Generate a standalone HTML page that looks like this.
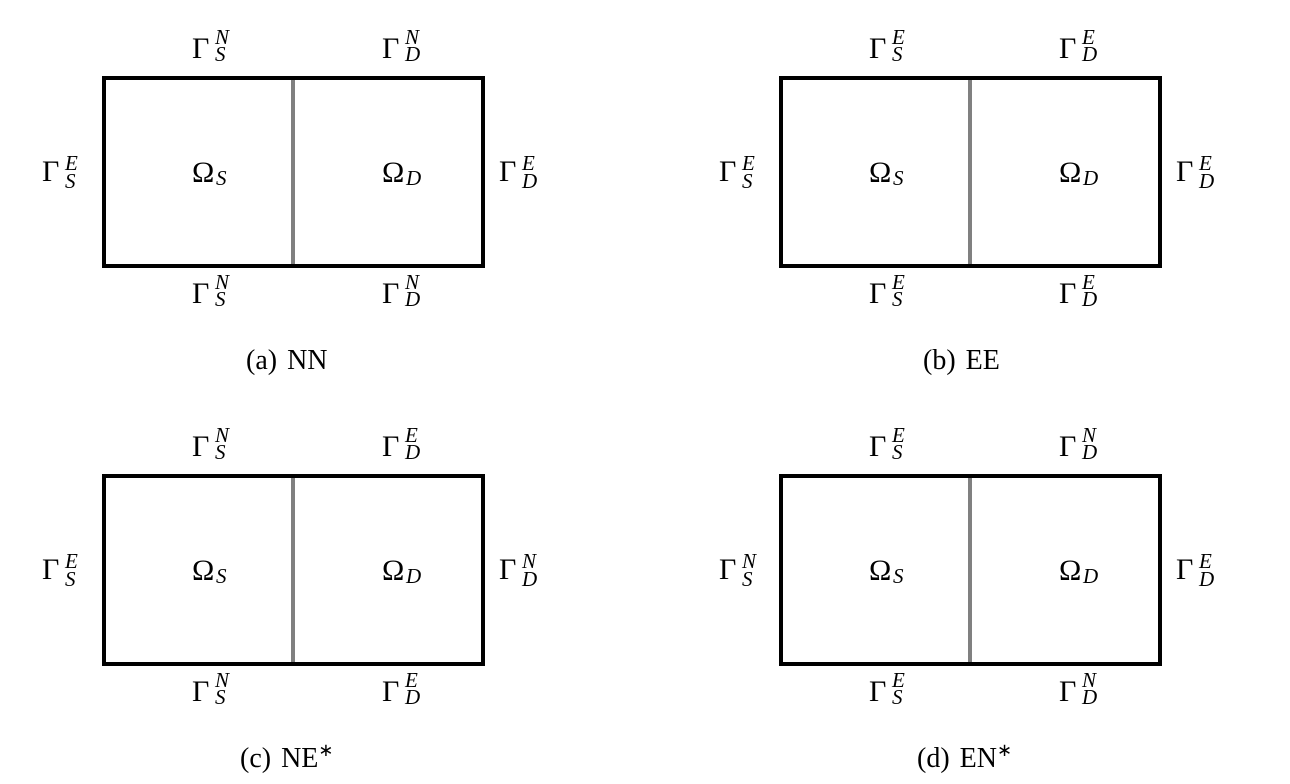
<!DOCTYPE html>
<html><head><meta charset="utf-8"><style>
html,body{margin:0;padding:0;background:#fff;width:1290px;height:784px;overflow:hidden}
svg text{font-family:"Liberation Serif",serif;fill:#000}
.g{font-size:30px}
.s{font-size:21px;font-style:italic}
.c{font-size:28px;word-spacing:3px}
</style></head><body>
<svg width="1290" height="784" xmlns="http://www.w3.org/2000/svg">
<!-- panel a -->
<g transform="translate(0,0)">
<line x1="293" y1="78" x2="293" y2="266" stroke="#808080" stroke-width="4"/>
<rect x="104" y="78" width="379" height="188" fill="none" stroke="#000" stroke-width="4"/>
<text class="g" x="192" y="58">Γ</text><text class="s" x="215" y="44">N</text><text class="s" x="215" y="61">S</text>
<text class="g" x="382" y="58">Γ</text><text class="s" x="405" y="44">N</text><text class="s" x="405" y="61">D</text>
<text class="g" x="192" y="303">Γ</text><text class="s" x="215" y="289">N</text><text class="s" x="215" y="306">S</text>
<text class="g" x="382" y="303">Γ</text><text class="s" x="405" y="289">N</text><text class="s" x="405" y="306">D</text>
<text class="g" x="42" y="181">Γ</text><text class="s" x="65" y="170">E</text><text class="s" x="65" y="188">S</text>
<text class="g" x="499" y="181">Γ</text><text class="s" x="522" y="170">E</text><text class="s" x="522" y="188">D</text>
<text class="g" x="192" y="182">Ω</text><text class="s" x="216" y="185">S</text>
<text class="g" x="382" y="182">Ω</text><text class="s" x="406" y="185">D</text>
<text class="c" x="246" y="369">(a) NN</text>
</g>
<!-- panel b -->
<g transform="translate(677,0)">
<line x1="293" y1="78" x2="293" y2="266" stroke="#808080" stroke-width="4"/>
<rect x="104" y="78" width="379" height="188" fill="none" stroke="#000" stroke-width="4"/>
<text class="g" x="192" y="58">Γ</text><text class="s" x="215" y="44">E</text><text class="s" x="215" y="61">S</text>
<text class="g" x="382" y="58">Γ</text><text class="s" x="405" y="44">E</text><text class="s" x="405" y="61">D</text>
<text class="g" x="192" y="303">Γ</text><text class="s" x="215" y="289">E</text><text class="s" x="215" y="306">S</text>
<text class="g" x="382" y="303">Γ</text><text class="s" x="405" y="289">E</text><text class="s" x="405" y="306">D</text>
<text class="g" x="42" y="181">Γ</text><text class="s" x="65" y="170">E</text><text class="s" x="65" y="188">S</text>
<text class="g" x="499" y="181">Γ</text><text class="s" x="522" y="170">E</text><text class="s" x="522" y="188">D</text>
<text class="g" x="192" y="182">Ω</text><text class="s" x="216" y="185">S</text>
<text class="g" x="382" y="182">Ω</text><text class="s" x="406" y="185">D</text>
<text class="c" x="246" y="369">(b) EE</text>
</g>
<!-- panel c -->
<g transform="translate(0,398)">
<line x1="293" y1="78" x2="293" y2="266" stroke="#808080" stroke-width="4"/>
<rect x="104" y="78" width="379" height="188" fill="none" stroke="#000" stroke-width="4"/>
<text class="g" x="192" y="58">Γ</text><text class="s" x="215" y="44">N</text><text class="s" x="215" y="61">S</text>
<text class="g" x="382" y="58">Γ</text><text class="s" x="405" y="44">E</text><text class="s" x="405" y="61">D</text>
<text class="g" x="192" y="303">Γ</text><text class="s" x="215" y="289">N</text><text class="s" x="215" y="306">S</text>
<text class="g" x="382" y="303">Γ</text><text class="s" x="405" y="289">E</text><text class="s" x="405" y="306">D</text>
<text class="g" x="42" y="181">Γ</text><text class="s" x="65" y="170">E</text><text class="s" x="65" y="188">S</text>
<text class="g" x="499" y="181">Γ</text><text class="s" x="522" y="170">N</text><text class="s" x="522" y="188">D</text>
<text class="g" x="192" y="182">Ω</text><text class="s" x="216" y="185">S</text>
<text class="g" x="382" y="182">Ω</text><text class="s" x="406" y="185">D</text>
<text class="c" x="240" y="369">(c) NE<tspan font-size="18" dy="-11">∗</tspan></text>
</g>
<!-- panel d -->
<g transform="translate(677,398)">
<line x1="293" y1="78" x2="293" y2="266" stroke="#808080" stroke-width="4"/>
<rect x="104" y="78" width="379" height="188" fill="none" stroke="#000" stroke-width="4"/>
<text class="g" x="192" y="58">Γ</text><text class="s" x="215" y="44">E</text><text class="s" x="215" y="61">S</text>
<text class="g" x="382" y="58">Γ</text><text class="s" x="405" y="44">N</text><text class="s" x="405" y="61">D</text>
<text class="g" x="192" y="303">Γ</text><text class="s" x="215" y="289">E</text><text class="s" x="215" y="306">S</text>
<text class="g" x="382" y="303">Γ</text><text class="s" x="405" y="289">N</text><text class="s" x="405" y="306">D</text>
<text class="g" x="42" y="181">Γ</text><text class="s" x="65" y="170">N</text><text class="s" x="65" y="188">S</text>
<text class="g" x="499" y="181">Γ</text><text class="s" x="522" y="170">E</text><text class="s" x="522" y="188">D</text>
<text class="g" x="192" y="182">Ω</text><text class="s" x="216" y="185">S</text>
<text class="g" x="382" y="182">Ω</text><text class="s" x="406" y="185">D</text>
<text class="c" x="240" y="369">(d) EN<tspan font-size="18" dy="-11">∗</tspan></text>
</g>
</svg>
</body></html>
